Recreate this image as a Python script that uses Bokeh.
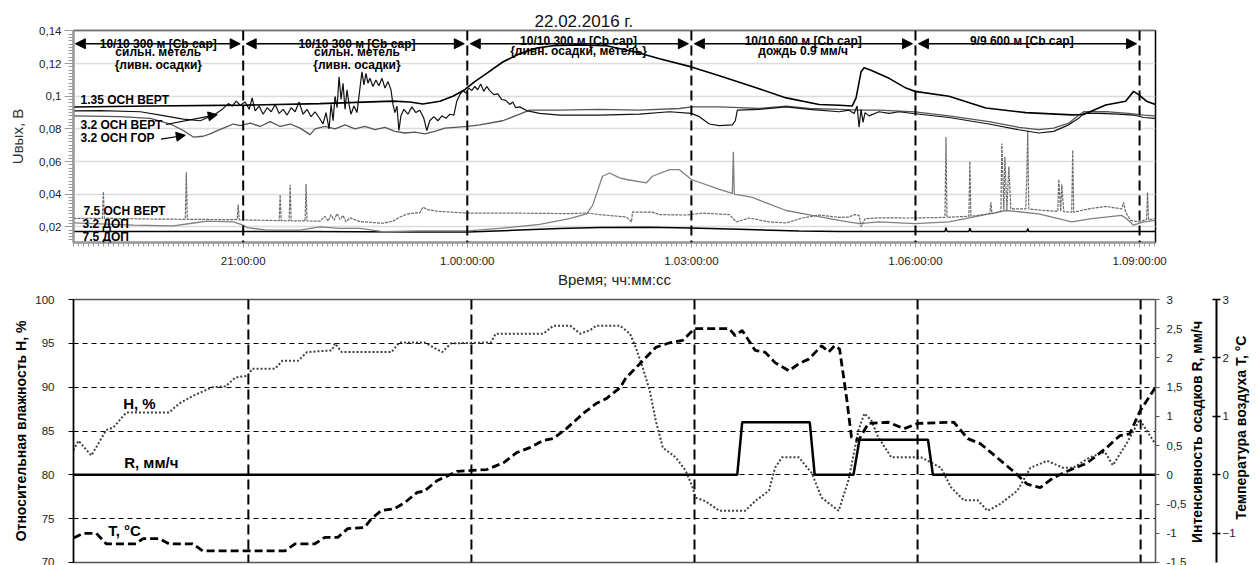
import math
from bokeh.plotting import figure
from bokeh.models import (Range1d, LinearAxis, FixedTicker, CustomJSTickFormatter,
                          Label, Arrow, NormalHead)
from bokeh.layouts import column
from bokeh.embed import file_html
from bokeh.resources import INLINE

FONT = "Liberation Sans"
NB = "\u00a0"

# ---------------- DATA (time = minutes relative to 21:00:00, 22.02.2016) ----------------
period_marks = [0, 180, 360, 540, 720]
period_labels = ["21:00:00", "1.00:00:00", "1.03:00:00", "1.06:00:00", "1.09:00:00"]

# top panel: U_out, V
t_l1 = [-136.3, -74.6, 3.2, 61.7, 120.3, 133.9, 144.3, 158.0, 168.4, 178.0,
        186.0, 195.6, 208.5, 222.1, 235.7, 248.6, 267.8, 291.9, 315.9, 334.4,
        360.0, 382.5, 408.9, 436.2, 462.6, 478.7, 489.1, 492.3, 496.3, 498.7,
        504.3, 518.8, 532.4, 539.6, 566.9, 596.5, 628.6, 665.5, 675.1, 692.8,
        708.8, 715.2, 719.2, 725.6, 732.8]
v_l1 = [0.0934, 0.094, 0.0946, 0.0955, 0.097, 0.0965, 0.0953, 0.097, 0.100, 0.104,
        0.109, 0.114, 0.121, 0.126, 0.1295, 0.131, 0.1315, 0.131, 0.127, 0.123,
        0.118, 0.1126, 0.106, 0.099, 0.095, 0.0945, 0.094, 0.099, 0.115, 0.1175,
        0.116, 0.111, 0.105, 0.103, 0.100, 0.0928, 0.090, 0.0886, 0.0888, 0.0947,
        0.097, 0.103, 0.101, 0.097, 0.095]

t_l2 = [-136.3, -114.7, -82.6, -66.5, -48.1, -34.5, -28.9, -22.5, -16.8, -12.0,
        -8.8, -5.6, -2.4, 1.6, 4.8, 7.2, 9.6, 12.8, 16.0, 19.2,
        22.5, 25.7, 28.9, 32.1, 35.3, 38.5, 41.7, 44.9, 48.1, 51.3,
        54.5, 57.7, 60.9, 64.1, 66.5, 69.0, 70.6, 72.2, 73.8, 75.4,
        77.0, 78.6, 80.2, 81.8, 83.4, 85.0, 86.6, 89.0, 91.4, 93.8,
        95.4, 97.0, 98.6, 100.2, 101.8, 104.2, 106.6, 109.0, 111.5, 113.9,
        116.3, 118.7, 120.3, 121.9, 123.5, 125.1, 126.7, 129.1, 132.3, 135.5,
        138.7, 141.9, 145.1, 147.5, 149.9, 153.1, 156.4, 159.6, 162.8, 166.0,
        169.2, 171.6, 174.0, 176.4, 178.8, 181.2, 183.6, 186.0, 188.4, 190.8,
        193.2, 195.6, 198.0, 201.3, 204.5, 207.7, 210.9, 214.1, 216.5, 218.9,
        222.1, 228.5, 238.1, 254.2, 286.2, 318.3, 342.4, 360.0, 366.4, 374.4,
        382.5, 392.9, 395.3, 396.9, 414.5, 436.2, 454.6, 478.7, 486.7, 490.7,
        493.1, 494.7, 496.3, 497.9, 499.5, 502.7, 510.7, 518.8, 526.8, 539.6,
        566.9, 599.0, 623.0, 639.0, 651.0, 663.1, 671.1, 675.1, 687.1, 703.2,
        715.2, 723.2, 732.8]
v_l2 = [0.091, 0.0912, 0.0905, 0.0885, 0.086, 0.085, 0.0868, 0.089, 0.092, 0.0955,
        0.094, 0.097, 0.0945, 0.0965, 0.092, 0.099, 0.091, 0.094, 0.089, 0.093,
        0.0905, 0.095, 0.0895, 0.092, 0.0885, 0.093, 0.0905, 0.0965, 0.089, 0.092,
        0.0875, 0.0905, 0.087, 0.083, 0.090, 0.080, 0.095, 0.085, 0.100, 0.093,
        0.112, 0.098, 0.108, 0.092, 0.104, 0.095, 0.089, 0.094, 0.090, 0.105,
        0.115, 0.107, 0.114, 0.108, 0.111, 0.106, 0.110, 0.1065, 0.111, 0.105,
        0.109, 0.104, 0.095, 0.090, 0.094, 0.079, 0.088, 0.092, 0.089, 0.0935,
        0.090, 0.0915, 0.0865, 0.079, 0.085, 0.0875, 0.085, 0.088, 0.0865, 0.089,
        0.0885, 0.097, 0.101, 0.1035, 0.102, 0.105, 0.1035, 0.106, 0.104, 0.1075,
        0.103, 0.106, 0.1035, 0.101, 0.1015, 0.098, 0.0975, 0.095, 0.0965, 0.093,
        0.0935, 0.091, 0.0895, 0.0885, 0.0885, 0.089, 0.0905, 0.0895, 0.0875, 0.083,
        0.082, 0.0825, 0.085, 0.0915, 0.092, 0.0935, 0.092, 0.0905, 0.0915, 0.0895,
        0.094, 0.081, 0.092, 0.084, 0.090, 0.088, 0.0905, 0.0895, 0.0905, 0.0893,
        0.087, 0.083, 0.0795, 0.0775, 0.0785, 0.0825, 0.0865, 0.0895, 0.0895, 0.089,
        0.0885, 0.087, 0.0865]

t_l3 = [-136.3, -98.6, -74.6, -58.5, -48.1, -40.1, -32.1, -26.5, -20.8, -14.4,
        -8.0, -2.4, 5.6, 13.6, 21.6, 29.7, 37.7, 45.7, 49.7, 53.7,
        57.7, 65.7, 73.8, 81.8, 89.8, 97.8, 105.8, 113.9, 121.9, 129.9,
        137.9, 145.9, 153.9, 162.0, 170.0, 180.4, 190.0, 208.5, 222.1, 230.1,
        254.2, 286.2, 318.3, 350.4, 360.0, 382.5, 398.5, 414.5, 436.2, 454.6,
        478.7, 494.7, 510.7, 539.6, 566.9, 599.0, 623.0, 639.0, 651.0, 663.1,
        669.5, 675.1, 695.2, 711.2, 723.2, 732.8]
v_l3 = [0.088, 0.0875, 0.0865, 0.083, 0.079, 0.075, 0.0755, 0.077, 0.079, 0.081,
        0.083, 0.082, 0.0835, 0.0815, 0.0845, 0.0815, 0.083, 0.0805, 0.0785, 0.0765,
        0.080, 0.0815, 0.080, 0.0825, 0.080, 0.0815, 0.0795, 0.081, 0.0785, 0.0775,
        0.078, 0.077, 0.0785, 0.0805, 0.081, 0.0815, 0.0825, 0.085, 0.089, 0.0915,
        0.0915, 0.092, 0.0915, 0.0925, 0.0935, 0.0935, 0.093, 0.0925, 0.094, 0.0925,
        0.092, 0.0915, 0.0915, 0.0905, 0.088, 0.0845, 0.081, 0.0795, 0.0805, 0.0835,
        0.0875, 0.0905, 0.0905, 0.0895, 0.0885, 0.088]

t_l4 = [-136.3, -113.1, -112.3, -111.5, -74.6, -46.5, -45.7, -44.9, -4.8, -4.0,
        -3.2, 28.9, 29.7, 30.5, 36.9, 37.7, 38.5, 49.7, 50.5, 51.3,
        61.7, 65.7, 68.2, 70.6, 73.0, 75.4, 77.8, 80.2, 82.6, 85.8,
        93.8, 112.3, 120.3, 125.9, 131.5, 137.9, 141.9, 144.3, 148.3, 155.5,
        180.4, 214.1, 262.2, 275.8, 286.2, 307.9, 311.9, 312.7, 328.7, 334.4,
        356.0, 368.8, 390.5, 396.1, 406.5, 422.5, 436.2, 449.0, 462.6, 478.7,
        486.7, 490.7, 494.7, 496.3, 499.5, 510.7, 539.6, 563.7, 564.5, 565.3,
        582.9, 583.7, 584.5, 599.7, 600.6, 601.4, 608.6, 609.4, 611.0, 611.8,
        613.4, 615.0, 616.6, 628.6, 629.4, 630.2, 631.0, 643.0, 654.3, 655.1,
        656.7, 657.5, 659.1, 665.5, 666.3, 667.1, 679.1, 692.8, 705.6, 707.2,
        708.8, 712.8, 719.2, 725.6, 726.4, 727.2, 732.8]
v_l4 = [0.0252, 0.0252, 0.0415, 0.0252, 0.0248, 0.0246, 0.0534, 0.0246, 0.0244, 0.0337,
        0.0243, 0.0238, 0.0397, 0.0238, 0.0237, 0.0457, 0.0237, 0.0236, 0.0463, 0.0236,
        0.0235, 0.0265, 0.0235, 0.0275, 0.024, 0.028, 0.0245, 0.027, 0.023, 0.0255,
        0.0232, 0.0222, 0.0235, 0.026, 0.0278, 0.0285, 0.0285, 0.032, 0.0305, 0.0296,
        0.0284, 0.0284, 0.0281, 0.0285, 0.0275, 0.026, 0.023, 0.029, 0.029, 0.0275,
        0.0272, 0.0284, 0.0275, 0.023, 0.0254, 0.023, 0.0224, 0.0254, 0.0272, 0.0258,
        0.026, 0.0275, 0.027, 0.020, 0.025, 0.0255, 0.0254, 0.0258, 0.075, 0.0258,
        0.0265, 0.060, 0.0265, 0.028, 0.035, 0.028, 0.0295, 0.071, 0.030, 0.063,
        0.030, 0.057, 0.031, 0.031, 0.050, 0.079, 0.031, 0.030, 0.0295, 0.049,
        0.0295, 0.046, 0.0293, 0.029, 0.067, 0.029, 0.031, 0.0325, 0.031, 0.035,
        0.029, 0.024, 0.023, 0.0245, 0.041, 0.0245, 0.025]

t_l5 = [-136.3, -88.2, -56.1, -38.5, -28.9, -8.0, 0.0, 3.2, 19.2, 45.7,
        61.7, 77.8, 93.8, 112.3, 141.9, 180.4, 206.1, 238.1, 262.2, 275.8,
        280.6, 288.6, 294.3, 302.3, 307.9, 323.9, 328.7, 342.4, 350.4, 360.0,
        382.5, 392.9, 393.7, 394.5, 408.9, 436.2, 457.0, 478.7, 494.7, 510.7,
        539.6, 566.9, 612.6, 639.0, 665.5, 681.5, 705.6, 709.6, 715.2, 723.2,
        732.8]
v_l5 = [0.0224, 0.021, 0.0206, 0.0225, 0.0235, 0.023, 0.021, 0.0195, 0.018, 0.018,
        0.020, 0.019, 0.019, 0.017, 0.0175, 0.0175, 0.019, 0.0215, 0.025, 0.028,
        0.033, 0.051, 0.053, 0.050, 0.049, 0.047, 0.051, 0.055, 0.055, 0.049,
        0.043, 0.0405, 0.066, 0.040, 0.038, 0.030, 0.027, 0.024, 0.022, 0.023,
        0.022, 0.023, 0.030, 0.028, 0.023, 0.025, 0.027, 0.025, 0.021, 0.023,
        0.024]

t_l6 = [-136.3, 0.0, 45.7, 141.9, 180.4, 222.1, 254.2, 286.2, 326.3, 358.4,
        398.5, 446.6, 478.7, 563.7, 564.5, 565.3, 582.9, 583.7, 584.5, 629.4,
        630.2, 631.0, 732.8]
v_l6 = [0.0172, 0.0172, 0.0171, 0.0168, 0.0168, 0.018, 0.019, 0.0196, 0.0198, 0.0193,
        0.0185, 0.0175, 0.0172, 0.0172, 0.0195, 0.0172, 0.0172, 0.0192, 0.0172, 0.0172,
        0.019, 0.0172, 0.0172]

series_names = ["1.35 ОСН ВЕРТ", "3.2 ОСН ВЕРТ", "3.2 ОСН ГОР", "7.5 ОСН ВЕРТ", "3.2 ДОП", "7.5 ДОП"]

# period notes
notes = [
    ["10/10 300 м [Cb сар]", "сильн. метель", "{ливн. осадки}"],
    ["10/10 300 м [Cb сар]", "сильн. метель", "{ливн. осадки}"],
    ["10/10 300 м [Cb сар]", "{ливн. осадки, метель}"],
    ["10/10 600 м [Cb сар]", "дождь 0.9 мм/ч"],
    ["9/9 600 м [Cb сар]"],
]

# bottom panel
t_h = [-141.1, -137.1, -126.7, -114.7, -109.0, -98.6, -64.1, -56.1, -44.9, -28.9,
       -18.4, -10.4, -0.8, 3.2, 21.6, 27.3, 40.1, 47.3, 67.4, 69.8,
       75.4, 115.5, 121.9, 141.9, 156.4, 163.6, 195.6, 199.6, 238.1, 246.1,
       259.8, 267.8, 275.8, 280.6, 299.9, 307.9, 312.7, 318.3, 323.9, 328.7,
       334.4, 344.8, 352.8, 358.4, 360.8, 368.8, 380.1, 400.9, 408.9, 420.1,
       425.0, 430.6, 444.2, 454.6, 462.6, 476.3, 484.3, 492.3, 497.1, 502.7,
       508.3, 518.8, 542.8, 558.9, 566.9, 577.3, 588.5, 596.5, 607.0, 620.6,
       631.0, 644.6, 657.5, 665.5, 679.1, 691.2, 697.6, 708.8, 719.2, 732.0]
h_vals = [82.8, 83.9, 82.2, 85.1, 85.4, 87.1, 87.1, 88.1, 89.0, 90.0,
          90.1, 91.1, 91.3, 92.1, 92.1, 93.0, 93.0, 94.0, 94.2, 95.0,
          94.0, 94.0, 95.1, 95.1, 94.0, 95.0, 95.1, 96.1, 96.1, 97.0,
          97.0, 96.1, 96.5, 97.0, 97.0, 96.1, 94.5, 92.2, 89.6, 86.2,
          83.1, 82.0, 80.5, 78.6, 77.4, 77.0, 75.9, 75.9, 77.0, 78.2,
          80.8, 82.0, 82.0, 80.2, 77.4, 75.9, 79.4, 85.1, 87.0, 86.2,
          84.3, 82.0, 82.0, 80.8, 78.6, 77.1, 77.1, 75.9, 76.7, 78.2,
          80.8, 81.6, 80.8, 80.8, 82.0, 82.6, 81.1, 83.6, 86.3, 83.5]

t_temp = [-141.1, -133.1, -122.7, -114.7, -90.6, -85.0, -72.2, -64.1, -44.9, -36.9,
          29.7, 37.7, 53.7, 61.7, 72.2, 80.2, 93.8, 99.4, 107.4, 117.9,
          125.9, 136.3, 141.9, 152.3, 168.4, 192.4, 206.1, 216.5, 227.7, 238.1,
          246.1, 256.6, 270.2, 280.6, 288.6, 299.9, 304.7, 315.9, 328.7, 340.0,
          350.4, 360.0, 388.1, 392.9, 398.5, 408.9, 416.9, 425.0, 436.2, 444.2,
          452.2, 462.6, 468.3, 473.1, 477.1, 482.7, 486.7, 492.3, 500.3, 516.4,
          529.2, 540.4, 569.3, 580.5, 590.9, 617.4, 628.6, 639.0, 649.5, 660.7,
          676.7, 692.8, 703.2, 711.2, 719.2, 732.0]
temp_vals = [-1.08, -1.0, -1.0, -1.18, -1.18, -1.09, -1.09, -1.18, -1.18, -1.30,
             -1.30, -1.18, -1.18, -1.07, -1.07, -0.92, -0.90, -0.75, -0.61, -0.58,
             -0.48, -0.30, -0.28, -0.10, 0.06, 0.09, 0.21, 0.38, 0.47, 0.59,
             0.62, 0.79, 1.05, 1.22, 1.30, 1.49, 1.66, 1.90, 2.18, 2.26,
             2.30, 2.50, 2.50, 2.38, 2.47, 2.13, 2.10, 1.92, 1.78, 1.90,
             1.98, 2.21, 2.10, 2.21, 2.15, 1.32, 0.64, 0.59, 0.88, 0.90,
             0.79, 0.88, 0.90, 0.62, 0.53, 0.06, -0.16, -0.22, -0.05, 0.06,
             0.20, 0.47, 0.67, 0.70, 1.08, 1.50]

t_rain = [-141.1, 394.5, 398.5, 453.0, 457.0, 488.3, 493.1, 548.4, 552.4, 732.0]
rain_vals = [0, 0, 0.9, 0.9, 0, 0, 0.6, 0.6, 0, 0]

h_ticks = [70, 75, 80, 85, 90, 95, 100]
r_ticks = [-1.5, -1, -0.5, 0, 0.5, 1, 1.5, 2, 2.5, 3]
temp_ticks = [-1, 0, 1, 2, 3]
u_ticks = [0.02, 0.04, 0.06, 0.08, 0.1, 0.12, 0.14]

# ---------------- TOP FIGURE ----------------
comma = CustomJSTickFormatter(code="return String(parseFloat(tick.toFixed(3))).replace('.', ',');")

p1 = figure(width=1259, height=290, x_range=Range1d(-136.3, 732.8), y_range=Range1d(0.0104, 0.1403),
            output_backend="svg", toolbar_location=None,
            min_border_left=73, min_border_right=102, min_border_top=30, min_border_bottom=42)
p1.title.text = "22.02.2016 г."
p1.title.align = "left"
p1.title.offset = 461
p1.title.text_font = FONT
p1.title.text_font_size = "17px"
p1.title.text_font_style = "normal"
p1.title.text_color = "#111"
p1.title.standoff = 0
p1.outline_line_color = "black"
p1.outline_line_width = 1.5
p1.xgrid.visible = False
p1.ygrid.grid_line_color = "#dcdcdc"
p1.ygrid.grid_line_width = 1.5

xa = p1.xaxis[0]
xa.ticker = FixedTicker(ticks=period_marks, minor_ticks=list(range(-136, 733, 4)))
xa.major_label_overrides = {m: l for m, l in zip(period_marks, period_labels)}
xa.axis_line_color = "#9a9a9a"
xa.axis_line_width = 2
xa.major_tick_line_color = "#9a9a9a"
xa.minor_tick_line_color = "#9a9a9a"
xa.major_tick_in = 0
xa.major_tick_out = 5
xa.minor_tick_in = 0
xa.minor_tick_out = 4
xa.major_label_standoff = 7
xa.major_label_text_font = FONT
xa.major_label_text_font_size = "11.5px"
xa.major_label_text_color = "#222"
xa.axis_label = "Время; чч:мм:сс"
xa.axis_label_text_font = FONT
xa.axis_label_text_font_size = "15px"
xa.axis_label_text_font_style = "normal"
xa.axis_label_text_color = "#222"
xa.axis_label_standoff = 1

ya = p1.yaxis[0]
ya.ticker = FixedTicker(ticks=u_ticks, minor_ticks=[round(0.012 + 0.002 * i, 3) for i in range(65)])
ya.formatter = comma
ya.axis_line_color = "#9a9a9a"
ya.axis_line_width = 2
ya.major_tick_line_color = "#9a9a9a"
ya.minor_tick_line_color = "#9a9a9a"
ya.major_tick_in = 0
ya.major_tick_out = 9
ya.minor_tick_in = 0
ya.minor_tick_out = 5
ya.major_label_standoff = 3
ya.major_label_text_font = FONT
ya.major_label_text_font_size = "11.5px"
ya.major_label_text_color = "#222"
ya.axis_label = "Uвых, В"
ya.axis_label_text_font = FONT
ya.axis_label_text_font_size = "15px"
ya.axis_label_text_font_style = "normal"
ya.axis_label_text_color = "#333"
ya.axis_label_standoff = 10

p1.line(t_l6, v_l6, line_color="black", line_width=1.5)
p1.line(t_l5, v_l5, line_color="#808080", line_width=1.3)
p1.line(t_l4, v_l4, line_color="#6a6a6a", line_width=1.2, line_dash="3 1")
p1.line(t_l3, v_l3, line_color="#555555", line_width=1.3)
p1.line(t_l2, v_l2, line_color="#111111", line_width=1.2)
p1.line(t_l1, v_l1, line_color="black", line_width=1.6)

for m in period_marks:
    p1.add_layout(Arrow(end=None, start=None, x_start=m, y_start=0.1403, x_end=m, y_end=0.0104,
                        line_color="black", line_width=2, line_dash="10 5"))

arrow_y = 0.1322
bounds = [-136.3] + period_marks
for i in range(5):
    a, b = bounds[i] + 1.5, bounds[i + 1] - 2.4
    if i > 0:
        a = bounds[i] + 2.4
    p1.add_layout(Arrow(start=NormalHead(size=10, fill_color="black", line_color="black"),
                        end=NormalHead(size=10, fill_color="black", line_color="black"),
                        x_start=a, y_start=arrow_y, x_end=b, y_end=arrow_y,
                        line_color="black", line_width=1.5))

note_x = [-68.2, 91.4, 269.4, 449.8, 625.4]
note_y0 = [0.1319, 0.1319, 0.1338, 0.1338, 0.1338]
for i, lines in enumerate(notes):
    for j, txt in enumerate(lines):
        if j == 0:
            y, base = note_y0[i], "alphabetic"
        else:
            y, base = (0.1270 if i < 2 else 0.1278) - (j - 1) * 0.0081, "middle"
        p1.add_layout(Label(x=note_x[i], y=y, text=txt, text_align="center", text_baseline=base,
                            text_font=FONT, text_font_size="12px", text_font_style="bold",
                            text_color="black"))

lab_pos = [(-130.7, 0.0976), (-130.7, 0.0821), (-130.7, 0.0743),
           (-128.3, 0.0296), (-129.1, 0.0215), (-129.1, 0.0140)]
for name, (x, y) in zip(series_names, lab_pos):
    p1.add_layout(Label(x=x, y=y, text=name, text_align="left", text_baseline="middle",
                        text_font=FONT, text_font_size="12px", text_font_style="bold",
                        text_color="black"))

p1.add_layout(Arrow(end=NormalHead(size=9, fill_color="black", line_color="black"),
                    x_start=-62.0, y_start=0.0827, x_end=-20.8, y_end=0.0887,
                    line_color="black", line_width=1.2))
p1.add_layout(Arrow(end=NormalHead(size=9, fill_color="black", line_color="black"),
                    x_start=-66.0, y_start=0.0737, x_end=-46.5, y_end=0.0761,
                    line_color="black", line_width=1.2))

# ---------------- BOTTOM FIGURE ----------------
p2 = figure(width=1259, height=275, x_range=Range1d(-141.1, 732.0), y_range=Range1d(70, 100),
            output_backend="svg", toolbar_location=None, x_axis_location=None,
            min_border_left=67, min_border_right=103, min_border_top=9, min_border_bottom=3)
p2.extra_y_ranges = {"r": Range1d(-1.5, 3)}
p2.outline_line_color = "#555555"
p2.outline_line_width = 1.5
p2.xgrid.visible = False
p2.ygrid.ticker = FixedTicker(ticks=[75, 80, 85, 90, 95])
p2.ygrid.grid_line_color = "black"
p2.ygrid.grid_line_width = 1
p2.ygrid.grid_line_dash = "5 4"

ha = p2.yaxis[0]
ha.ticker = FixedTicker(ticks=h_ticks)
ha.axis_line_color = "black"
ha.axis_line_width = 1.5
ha.major_tick_line_color = "black"
ha.major_tick_in = 0
ha.major_tick_out = 5
ha.minor_tick_line_color = None
ha.major_label_standoff = 14
ha.major_label_text_font = FONT
ha.major_label_text_font_size = "11.5px"
ha.major_label_text_color = "#222"
ha.axis_label = "Относительная влажность H, %"
ha.axis_label_text_font = FONT
ha.axis_label_text_font_size = "14px"
ha.axis_label_text_font_style = "bold"
ha.axis_label_text_color = "black"
ha.axis_label_standoff = 3

ra = LinearAxis(y_range_name="r", ticker=FixedTicker(ticks=r_ticks), formatter=comma)
ra.axis_line_color = "#555555"
ra.major_tick_line_color = "#555555"
ra.major_tick_in = 0
ra.major_tick_out = 4
ra.minor_tick_line_color = None
ra.major_label_standoff = 7
ra.major_label_text_font = FONT
ra.major_label_text_font_size = "11.5px"
ra.major_label_text_color = "#222"
ra.axis_label = NB * 5 + "Интенсивность осадков R, мм/ч"
ra.axis_label_text_font = FONT
ra.axis_label_text_font_size = "14px"
ra.axis_label_text_font_style = "bold"
ra.axis_label_text_color = "black"
ra.axis_label_standoff = 8
p2.add_layout(ra, "right")

ta = LinearAxis(y_range_name="r", ticker=FixedTicker(ticks=temp_ticks))
ta.axis_line_color = "black"
ta.axis_line_width = 2
ta.major_tick_line_color = "black"
ta.major_tick_line_width = 1.5
ta.major_tick_in = 4
ta.major_tick_out = 4
ta.minor_tick_line_color = None
ta.major_label_standoff = 2
ta.major_label_text_font = FONT
ta.major_label_text_font_size = "11.5px"
ta.major_label_text_color = "#222"
ta.axis_label = NB * 11 + "Температура воздуха T, °C"
ta.axis_label_text_font = FONT
ta.axis_label_text_font_size = "14px"
ta.axis_label_text_font_style = "bold"
ta.axis_label_text_color = "black"
ta.axis_label_standoff = 2
p2.add_layout(ta, "right")

for ax in (ra, ta):
    try:
        ax.axis_label_orientation = math.pi / 2
        ax.axis_label_align = "start"
    except Exception:
        pass

p2.line(t_h, h_vals, line_color="#404040", line_width=2, line_dash="2 2")
p2.line(t_temp, temp_vals, y_range_name="r", line_color="black", line_width=2.8, line_dash="8 4")
p2.line(t_rain, rain_vals, y_range_name="r", line_color="black", line_width=2.5)

for m in period_marks:
    p2.add_layout(Arrow(end=None, start=None, x_start=m, y_start=100, x_end=m, y_end=70,
                        line_color="black", line_width=2, line_dash="10 5"))

for txt, x, y in [("H, %", -101.0, 88.1), ("R, мм/ч", -100.2, 81.4), ("T, °C", -113.1, 73.7)]:
    p2.add_layout(Label(x=x, y=y, text=txt, text_align="left", text_baseline="middle",
                        text_font=FONT, text_font_size="15px", text_font_style="bold",
                        text_color="black"))

layout = column(p1, p2, spacing=0)
open("out.html", "w").write(file_html(layout, INLINE))
